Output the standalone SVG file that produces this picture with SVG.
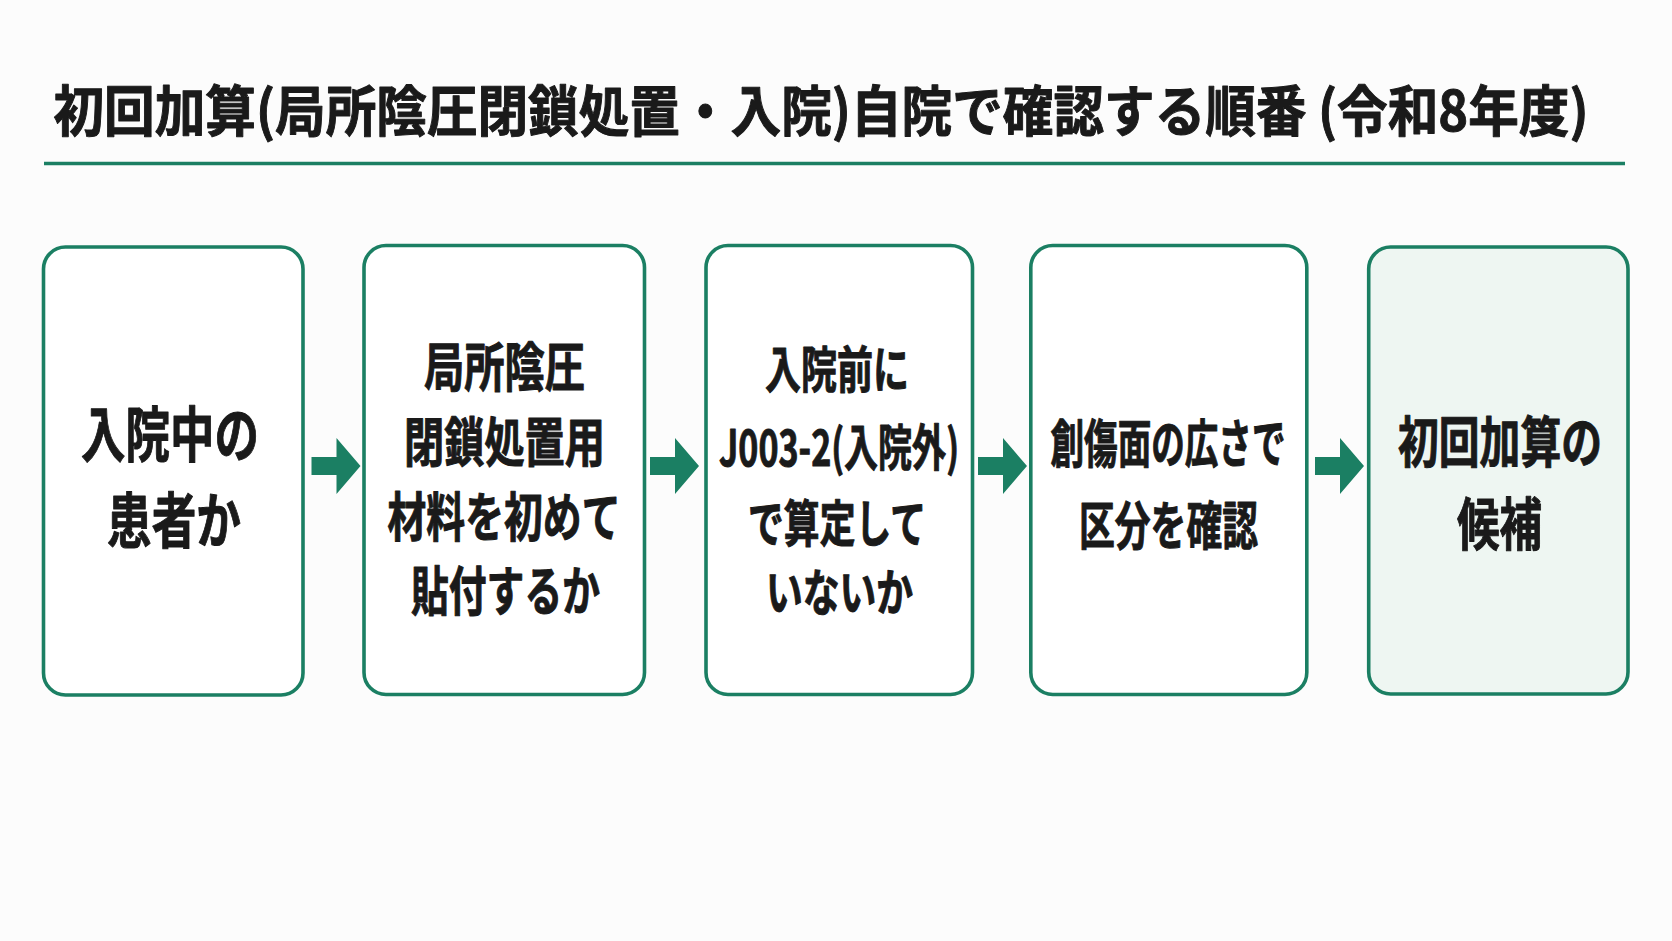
<svg xmlns="http://www.w3.org/2000/svg" xmlns:xlink="http://www.w3.org/1999/xlink" width="1672" height="941" viewBox="0 0 1672 941">
<style>
.t{font-family:"Noto Sans CJK JP","Noto Sans CJK SC",sans-serif;font-weight:700;fill:#1a1a1a;stroke:#1a1a1a;stroke-width:1;stroke-linejoin:round;text-anchor:middle;dominant-baseline:central}
.box{fill:#ffffff;stroke:#1b7f63;stroke-width:3.6}
.box.last{fill:#eef6f2}
.arr{fill:#1b7f63}
</style>
<defs>
<path id="arrow" d="M0,-9 H25 V-28 L49,0 L25,28 V9 H0 Z"/>
</defs>
<rect width="1672" height="941" fill="#fcfcfc"/>
<g id="title">
<text class="t" transform="translate(821 107.5) scale(0.85 1)" x="0" y="0" font-size="55" stroke-width="1.2" textLength="1806" lengthAdjust="spacingAndGlyphs">初回加算(局所陰圧閉鎖処置・入院)自院で確認する順番 (令和8年度)</text>
<line x1="44" y1="163.5" x2="1625" y2="163.5" stroke="#1b7f63" stroke-width="3.6"/>
</g>
<g id="connectors" class="arr">
<use xlink:href="#arrow" x="311.5" y="466"/>
<use xlink:href="#arrow" x="650" y="466"/>
<use xlink:href="#arrow" x="978" y="466"/>
<use xlink:href="#arrow" x="1315" y="466"/>
</g>
<g id="node1">
<rect class="box" x="43.5" y="247" width="259.5" height="448" rx="22"/>
<text class="t" x="170" y="430.5" font-size="60" textLength="178" lengthAdjust="spacingAndGlyphs">入院中の</text>
<text class="t" x="174" y="516" font-size="60" textLength="134" lengthAdjust="spacingAndGlyphs">患者か</text>
</g>
<g id="node2">
<rect class="box" x="364" y="245.5" width="280.5" height="449" rx="22"/>
<text class="t" x="504.5" y="364" font-size="53" textLength="161" lengthAdjust="spacingAndGlyphs">局所陰圧</text>
<text class="t" x="504.5" y="439" font-size="53" textLength="201" lengthAdjust="spacingAndGlyphs">閉鎖処置用</text>
<text class="t" x="504" y="514" font-size="53" textLength="233" lengthAdjust="spacingAndGlyphs">材料を初めて</text>
<text class="t" x="505.5" y="587.5" font-size="53" textLength="189" lengthAdjust="spacingAndGlyphs">貼付するか</text>
</g>
<g id="node3">
<rect class="box" x="706" y="245.5" width="266.5" height="449" rx="22"/>
<text class="t" x="837" y="365.5" font-size="50" textLength="144" lengthAdjust="spacingAndGlyphs">入院前に</text>
<text class="t" x="839" y="444" font-size="50" textLength="240" lengthAdjust="spacingAndGlyphs">J003-2(入院外)</text>
<text class="t" x="837" y="520" font-size="50" textLength="178" lengthAdjust="spacingAndGlyphs">で算定して</text>
<text class="t" x="839.5" y="588.5" font-size="50" textLength="147" lengthAdjust="spacingAndGlyphs">いないか</text>
</g>
<g id="node4">
<rect class="box" x="1030.8" y="245.5" width="276" height="449" rx="22"/>
<text class="t" x="1168" y="440.5" font-size="52" textLength="235" lengthAdjust="spacingAndGlyphs">創傷面の広さで</text>
<text class="t" x="1168.5" y="522" font-size="52" textLength="179" lengthAdjust="spacingAndGlyphs">区分を確認</text>
</g>
<g id="node5">
<rect class="box last" x="1368.7" y="247" width="259.3" height="447" rx="22"/>
<text class="t" x="1500" y="438" font-size="55" textLength="204" lengthAdjust="spacingAndGlyphs">初回加算の</text>
<text class="t" x="1499.5" y="520" font-size="57" textLength="85" lengthAdjust="spacingAndGlyphs">候補</text>
</g>
</svg>
